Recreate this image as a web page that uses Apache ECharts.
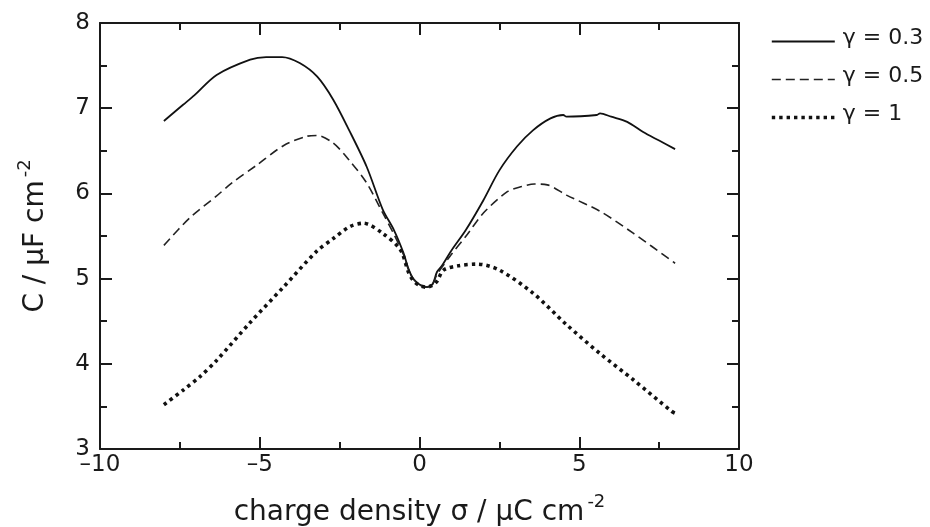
<!DOCTYPE html>
<html>
<head>
<meta charset="utf-8">
<script src="https://cdn.jsdelivr.net/npm/echarts@6/dist/echarts.min.js"></script>
<style>html,body{margin:0;padding:0;background:#fff}#c{width:930px;height:527px}</style>
</head>
<body>
<div id="c"></div>
<script>
// sigma (µC cm^-2) and capacitance (µF cm^-2)
const sigma03 = [-8, -7.4, -7.05, -6.35, -5.3, -4.8, -4.3, -3.75, -3.2, -2.7, -2.2, -1.65, -1.15, -0.8, -0.5, -0.35, -0.2, 0.0, 0.2, 0.4, 0.55, 0.7, 1.0, 1.45, 2.0, 2.5, 3.05, 3.55, 4.1, 4.5, 4.6, 5.55, 5.65, 6.0, 6.5, 7.0, 7.5, 8.0];
const c03     = [6.85, 7.04, 7.15, 7.39, 7.57, 7.60, 7.60, 7.53, 7.37, 7.10, 6.74, 6.31, 5.81, 5.57, 5.30, 5.12, 5.00, 4.93, 4.90, 4.93, 5.08, 5.15, 5.33, 5.57, 5.92, 6.27, 6.55, 6.74, 6.88, 6.92, 6.90, 6.92, 6.94, 6.90, 6.84, 6.72, 6.62, 6.52];

const sigma05 = [-8, -7.2, -6.35, -5.88, -5.1, -4.26, -3.53, -3.2, -2.7, -2.2, -1.65, -1.15, -0.8, -0.5, -0.35, -0.2, 0.0, 0.2, 0.4, 0.55, 0.95, 1.5, 2.0, 2.75, 3.2, 3.6, 4.0, 4.6, 5.65, 6.7, 8.0];
const c05     = [5.39, 5.71, 5.97, 6.12, 6.33, 6.56, 6.67, 6.68, 6.59, 6.39, 6.12, 5.77, 5.52, 5.28, 5.11, 5.00, 4.93, 4.90, 4.93, 5.05, 5.26, 5.52, 5.77, 6.02, 6.08, 6.11, 6.10, 5.98, 5.79, 5.53, 5.18];

const sigma1  = [-8, -7.4, -6.87, -6.35, -5.31, -4.26, -3.22, -2.7, -2.18, -1.76, -1.15, -0.6, -0.35, -0.2, 0.0, 0.2, 0.4, 0.55, 0.75, 1.2, 1.8, 2.5, 3.55, 4.6, 5.65, 6.7, 7.9, 8.0];
const c1      = [3.52, 3.69, 3.85, 4.04, 4.48, 4.90, 5.32, 5.47, 5.61, 5.65, 5.53, 5.34, 5.08, 4.98, 4.92, 4.90, 4.92, 4.97, 5.10, 5.15, 5.17, 5.10, 4.83, 4.46, 4.12, 3.81, 3.44, 3.42];

const seriesNames = ['γ = 0.3', 'γ = 0.5', 'γ = 1'];
const xTicks = [-10, -5, 0, 5, 10];
const yTicks = [3, 4, 5, 6, 7, 8];

const FONT = 'DejaVu Sans, Liberation Sans, Arial, sans-serif';
const INK = '#1a1a1a';

function pairs(xs, ys) { return xs.map((x, i) => [x, ys[i]]); }

const baseAxis = {
  axisLine: { show: true, onZero: false, lineStyle: { color: INK, width: 2 } },
  axisTick: { show: true, inside: true, length: 12, lineStyle: { color: INK, width: 2 } },
  minorTick: { show: true, splitNumber: 2, length: 7, lineStyle: { color: INK, width: 2 } },
  splitLine: { show: false },
  minorSplitLine: { show: false }
};

const nameRich = {
  t: { fontFamily: FONT, fontSize: 28, color: INK, verticalAlign: 'bottom', lineHeight: 34 },
  s: { fontFamily: FONT, fontSize: 18, color: INK, verticalAlign: 'top', lineHeight: 34, padding: [0, 0, 14, 3] }
};

const chart = echarts.init(document.getElementById('c'), null, { renderer: 'canvas' });
chart.setOption({
  animation: false,
  backgroundColor: '#fff',
  grid: { left: 100, right: 191, top: 23, bottom: 78, containLabel: false, outerBoundsMode: 'none' },
  legend: {
    orient: 'vertical',
    left: 770,
    top: 27,
    padding: 0,
    itemWidth: 63,
    itemHeight: 14,
    itemGap: 9,
    itemStyle: { opacity: 0 },
    lineStyle: { width: 'inherit' },
    formatter: n => '{a|' + n + '}',
    textStyle: {
      fontFamily: FONT, fontSize: 22, color: INK,
      rich: { a: { fontFamily: FONT, fontSize: 22, color: INK, lineHeight: 26, padding: [0, 0, 7, 3] } }
    },
    data: seriesNames
  },
  xAxis: [
    Object.assign({}, baseAxis, {
      type: 'value', position: 'bottom', min: -10, max: 10, interval: 5,
      axisLabel: {
        fontFamily: FONT, fontSize: 23, color: INK, margin: 5,
        formatter: v => xTicks.includes(v) ? String(v).replace('-', '–') : ''
      },
      name: '{t|charge density σ / μC cm}{s|-2}',
      nameLocation: 'middle',
      nameGap: 44,
      nameTextStyle: { rich: nameRich }
    }),
    Object.assign({}, baseAxis, {
      type: 'value', position: 'top', min: -10, max: 10, interval: 5,
      axisLabel: { show: false }
    })
  ],
  yAxis: [
    Object.assign({}, baseAxis, {
      type: 'value', position: 'left', min: 3, max: 8, interval: 1,
      axisLabel: {
        fontFamily: FONT, fontSize: 23, color: INK, margin: 10,
        formatter: v => yTicks.includes(v) ? String(v) : ''
      },
      name: '{t|C / μF cm}{s|-2}',
      nameLocation: 'middle',
      nameGap: 50,
      nameRotate: 90,
      nameTextStyle: { rich: nameRich }
    }),
    Object.assign({}, baseAxis, {
      type: 'value', position: 'right', min: 3, max: 8, interval: 1,
      axisLabel: { show: false }
    })
  ],
  series: [
    {
      name: seriesNames[0], type: 'line', xAxisIndex: 0, yAxisIndex: 0,
      data: pairs(sigma03, c03), symbol: 'none', smooth: 0.3,
      itemStyle: { color: '#111' },
      lineStyle: { color: '#111', width: 1.8, type: 'solid' }
    },
    {
      name: seriesNames[1], type: 'line', xAxisIndex: 0, yAxisIndex: 0,
      data: pairs(sigma05, c05), symbol: 'none', smooth: 0.3,
      itemStyle: { color: '#222' },
      lineStyle: { color: '#222', width: 1.6, type: [9, 5] }
    },
    {
      name: seriesNames[2], type: 'line', xAxisIndex: 0, yAxisIndex: 0,
      data: pairs(sigma1, c1), symbol: 'none', smooth: 0.3,
      itemStyle: { color: '#111' },
      lineStyle: { color: '#111', width: 3.6, type: [3.4, 4] }
    }
  ]
});
</script>
</body>
</html>
